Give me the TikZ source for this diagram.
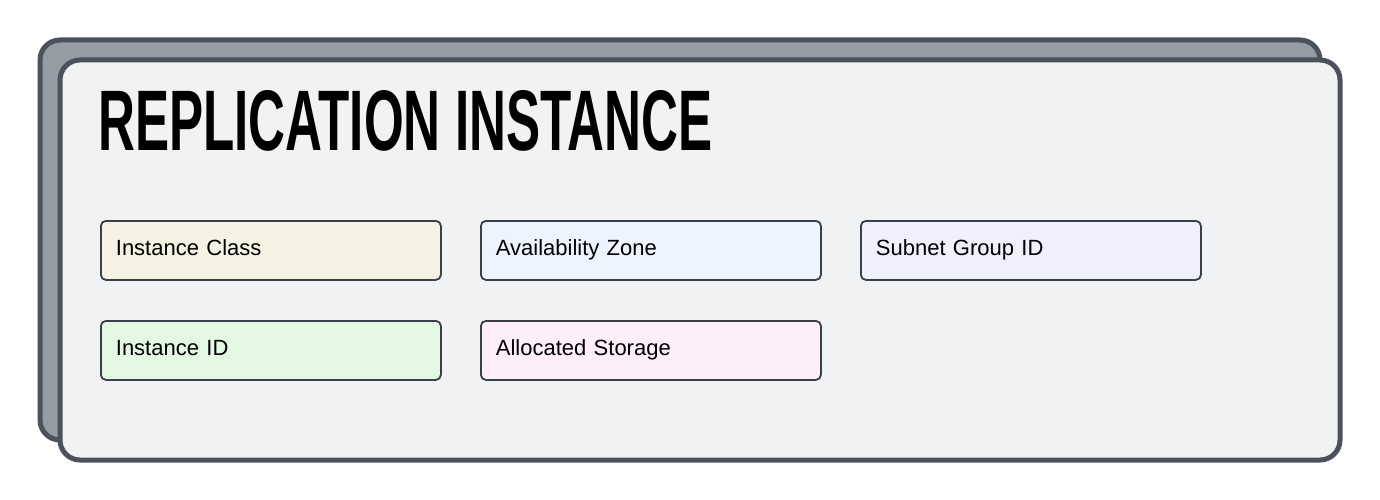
\documentclass[tikz,border=0pt]{standalone}
\usepackage{fontspec}
\setmainfont{Liberation Sans}
\usetikzlibrary{positioning}
\definecolor{edge}{HTML}{4B525C}
\definecolor{backfill}{HTML}{959CA4}
\definecolor{frontfill}{HTML}{F1F2F4}
\definecolor{boxline}{HTML}{3B4048}
\definecolor{classfill}{HTML}{F5F2E3}
\definecolor{zonefill}{HTML}{EEF4FD}
\definecolor{subnetfill}{HTML}{F0F0FC}
\definecolor{idfill}{HTML}{E2F8E2}
\definecolor{storagefill}{HTML}{FDEEF8}
\tikzset{
  field/.style={draw=boxline, line width=1.8pt, rounded corners=5pt,
    minimum width=340pt, minimum height=59pt, anchor=north west,
    inner xsep=15pt, text width=310pt, align=left,
    text height=16pt, text depth=5pt,
    font=\fontsize{22pt}{26pt}\selectfont}
}
\begin{document}
\begin{tikzpicture}[x=1pt,y=-1pt]
	\useasboundingbox (0,0) rectangle (1380,500);
	\draw[edge, line width=5pt, fill=backfill, rounded corners=20pt] (40,40) rectangle (1320,440);
	\draw[edge, line width=5pt, fill=frontfill, rounded corners=20pt] (60,60) rectangle (1340,460);
	\node[anchor=north west, inner sep=0pt] (title) at (98,90) {\resizebox{614pt}{60pt}{\bfseries REPLICATION INSTANCE}};
	\node[field, fill=classfill] (class) at (100,220) {Instance Class};
	\node[field, fill=zonefill] (zone) at (480,220) {Availability Zone};
	\node[field, fill=subnetfill] (subnet) at (860,220) {Subnet Group ID};
	\node[field, fill=idfill] (id) at (100,320) {Instance ID};
	\node[field, fill=storagefill] (storage) at (480,320) {Allocated Storage};
\end{tikzpicture}
\end{document}
